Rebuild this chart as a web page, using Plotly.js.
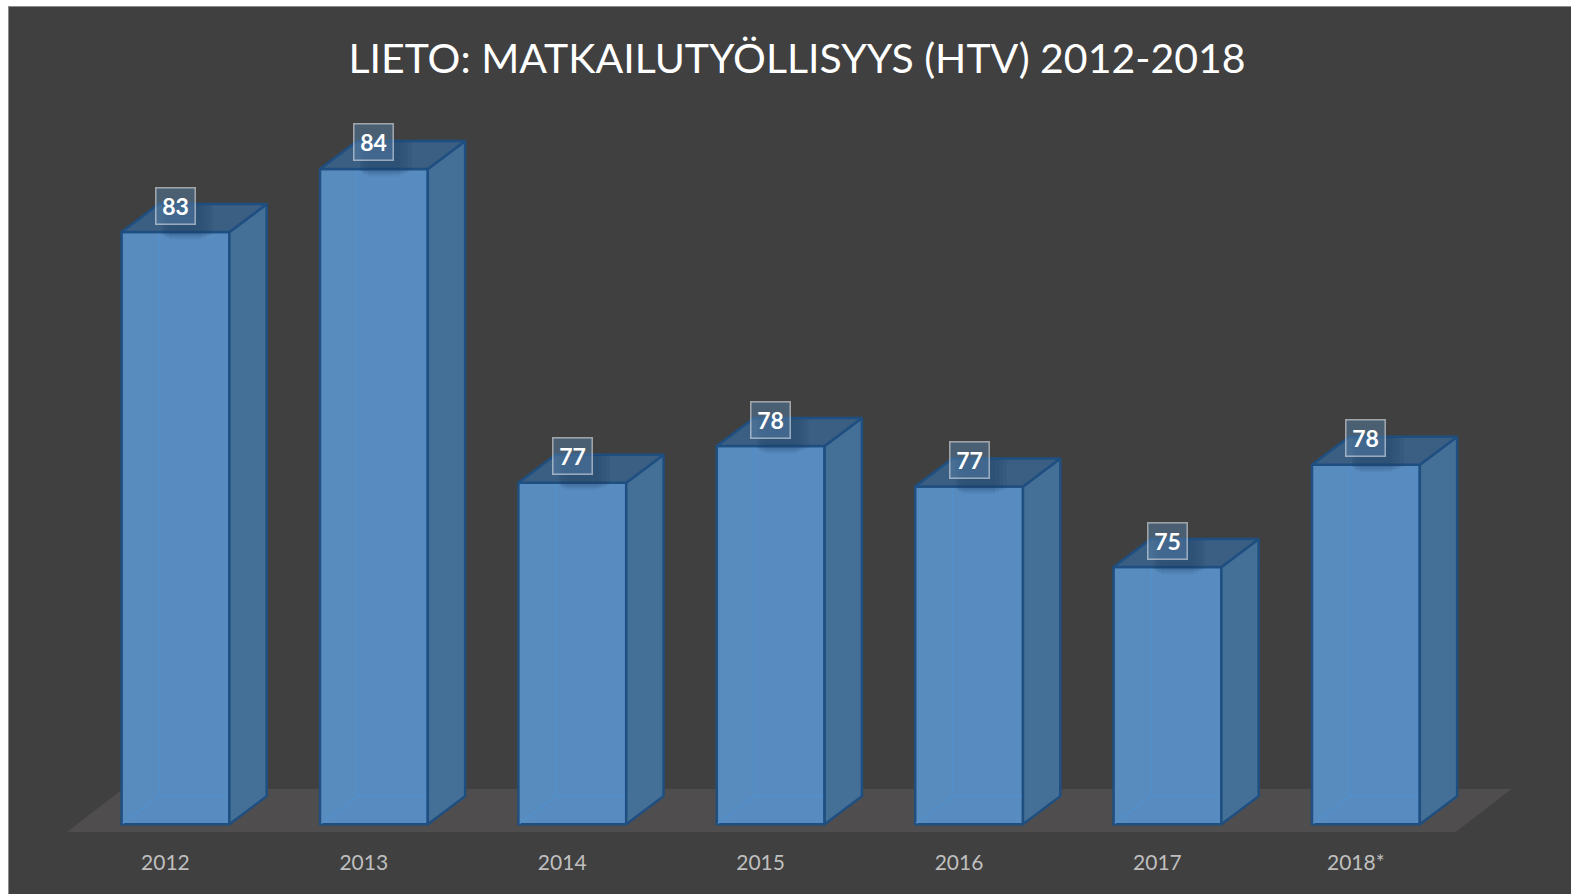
<!DOCTYPE html>
<html><head><meta charset="utf-8">
<script src="https://cdn.plot.ly/plotly-3.0.1.min.js"></script>
<style>
html,body{margin:0;padding:0;background:#fff;overflow:hidden}
#frame{position:absolute;left:8px;top:6px;width:1563px;height:888px;background:#8c8c8c}
#chart{position:absolute;left:1px;top:1px;width:1562px;height:887px}
</style></head><body>
<div id="frame"><div id="chart"></div></div>
<script>
const titleText = "LIETO: MATKAILUTYÖLLISYYS (HTV) 2012-2018";
const categories = ["2012","2013","2014","2015","2016","2017","2018*"];
const values = [82.85,84.3,77.09,77.93,77.0,75.15,77.5];
const dataLabels = ["83","84","77","78","77","75","78"];

// projection settings, in axis units
const BASE = 69.24, FLOOR_FRONT = 69.06, FLOOR_BACK = 70.05;
const OFFSET = 0.048, BAR_W = 0.5433, DX = 0.188, DY = 0.644, FLOOR_DX = 0.282, LABEL_UP = 0.61;
const pos = categories.map((c,i)=>i);
const x0 = pos.map(p=>p+OFFSET-BAR_W/2), x1 = pos.map(p=>p+OFFSET+BAR_W/2);

function poly(fn){ const xs=[],ys=[]; values.forEach((v,i)=>{ fn(v,i).forEach(p=>{xs.push(p[0]);ys.push(p[1]);}); xs.push(null);ys.push(null); }); return {x:xs,y:ys}; }
const EDGE = '#1f4f80';
function face(g,fill,line,w){ return {type:'scatter',mode:line?'lines':'none',x:g.x,y:g.y,fill:'toself',fillcolor:fill,line:{color:line||'rgba(0,0,0,0)',width:w||2},hoverinfo:'skip',showlegend:false}; }
function lines(g,color,w){ return {type:'scatter',mode:'lines',x:g.x,y:g.y,line:{color:color,width:w},hoverinfo:'skip',showlegend:false,connectgaps:false}; }

const front = {type:'bar',x:pos.map(p=>p+OFFSET),y:values.map(v=>v-BASE),base:BASE,width:BAR_W,
  marker:{color:'#588cc0',line:{color:EDGE,width:2.5}},hoverinfo:'skip',showlegend:false};
const wall = face(poly((v,i)=>[[x0[i],BASE],[x0[i]+DX,BASE+DY],[x0[i]+DX,v],[x0[i],v]]),'rgba(135,140,145,0.035)');
const inner = lines(poly((v,i)=>[[x0[i]+0.006,BASE+0.02],[x0[i]+DX,BASE+DY],[x0[i]+DX,v-0.03],[x0[i]+DX,BASE+DY],[x1[i]-0.006,BASE+DY]]),'rgba(82,145,205,0.85)',1.5);
const side = face(poly((v,i)=>[[x1[i],v],[x1[i]+DX,v+DY],[x1[i]+DX,BASE+DY],[x1[i],BASE],[x1[i],v]]),'#446f97',EDGE,2.5);
const top_ = face(poly((v,i)=>[[x0[i],v],[x0[i]+DX,v+DY],[x1[i]+DX,v+DY],[x1[i],v],[x0[i],v]]),'#3a5f83',EDGE,2.5);

// soft shadow of each label on its bar
function shadow(a,b,up,down,alpha){ const cx=i=>pos[i]+OFFSET; return face(poly((v,i)=>[[cx(i)+a,v+up],[cx(i)+b,v+up],[cx(i)+b,v-down],[cx(i)+a,v-down]]),'rgba(25,55,95,'+alpha+')'); }
const shadows = [shadow(-0.07,0.19,DY-0.02,0.05,0.11),shadow(-0.06,0.17,DY-0.02,0.09,0.11),shadow(-0.05,0.15,DY-0.02,0.13,0.09),shadow(-0.03,0.13,DY-0.02,0.17,0.07)];

const annotations = values.map((v,i)=>({x:pos[i]+OFFSET,y:v+LABEL_UP,xref:'x',yref:'y',text:'<b>'+dataLabels[i]+'</b>',showarrow:false,
  xanchor:'center',yanchor:'middle',width:38,height:35,bgcolor:'rgba(85,125,165,0.5)',bordercolor:'rgba(255,255,255,0.5)',borderwidth:1.5,borderpad:0,
  font:{family:'Lato',size:23,color:'#ffffff'}}));

const floor = {type:'path',layer:'below',xref:'x',yref:'y',line:{width:0},fillcolor:'#4f4d4d',
  path:`M ${pos[0]-0.5} ${FLOOR_FRONT} L ${pos[6]+0.5} ${FLOOR_FRONT} L ${pos[6]+0.5+FLOOR_DX} ${FLOOR_BACK} L ${pos[0]-0.5+FLOOR_DX} ${FLOOR_BACK} Z`};

const layout = {
  width:1562,height:887,margin:{l:0,r:0,t:93,b:62},
  paper_bgcolor:'#404040',plot_bgcolor:'#404040',showlegend:false,
  title:{text:titleText,font:{family:'Lato',size:41,color:'#ffffff'},x:0.5045,xref:'paper',xanchor:'center',y:0.9415,yref:'container',yanchor:'middle'},
  xaxis:{range:[-0.7913,7.0817],tickmode:'array',tickvals:pos.map(p=>p-0.003),ticktext:categories,showgrid:false,zeroline:false,showline:false,ticks:'',
    tickfont:{family:'Lato',size:21,color:'#bfbfbf'},ticklabelstandoff:16,automargin:false,fixedrange:true},
  yaxis:{range:[FLOOR_FRONT,85.886],visible:false,showgrid:false,zeroline:false,automargin:false,fixedrange:true},
  shapes:[floor],annotations:annotations,bargap:0
};
Plotly.newPlot('chart',[front,wall,inner,side,top_].concat(shadows),layout,{displayModeBar:false,staticPlot:true});
</script></body></html>
